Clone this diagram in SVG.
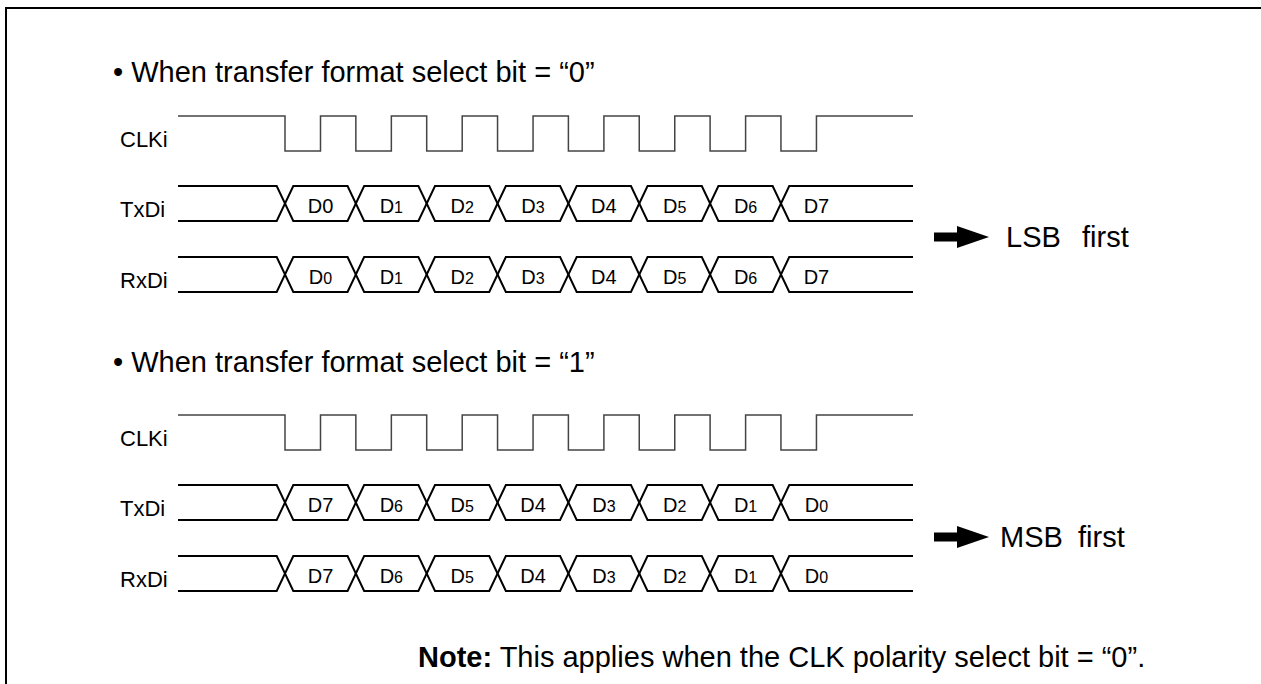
<svg xmlns="http://www.w3.org/2000/svg" xmlns:xlink="http://www.w3.org/1999/xlink" width="1261" height="684" viewBox="0 0 1261 684">
<style>
.frame{fill:none;stroke:#000;stroke-width:2}
.clk{fill:none;stroke:#444;stroke-width:1.5}
.bus{fill:none;stroke:#000;stroke-width:2}
.t{font-family:"Liberation Sans",Arial,sans-serif;fill:#000}
.head{font-size:29px}
.sig{font-size:22px}
.d{font-size:20px;text-anchor:middle}
.s{font-size:16px}
.big{font-size:29px}
.note{font-size:29px}
.arrow{fill:#000}
</style>
<defs>
<path id="clkwave" class="clk" d="M178,0 H285 V35 H320.5 V0 H355.85 V35 H391.35 V0 H426.7 V35 H462.2 V0 H497.55 V35 H533.05 V0 H568.4 V35 H603.9 V0 H639.25 V35 H674.75 V0 H710.1 V35 H745.6 V0 H780.95 V35 H816.45 V0 H913"/>
<g id="buswave" class="bus">
<path d="M178,0 H276.7 L293.3,35 H347.55 L364.15,0 H418.4 L435,35 H489.25 L505.85,0 H560.1 L576.7,35 H630.95 L647.55,0 H701.8 L718.4,35 H772.65 L789.25,0 H913"/>
<path d="M178,35 H276.7 L293.3,0 H347.55 L364.15,35 H418.4 L435,0 H489.25 L505.85,35 H560.1 L576.7,0 H630.95 L647.55,35 H701.8 L718.4,0 H772.65 L789.25,35 H913"/>
</g>
<path id="bigarrow" class="arrow" d="M934,-4.5 H957 V-11 L989,0 L957,11 V4.5 H934 Z"/>
</defs>

<path class="frame" d="M6,690 V8 H1270"/>

<g id="section-lsb">
<text class="t head" x="113" y="82">• When transfer format select bit = “0”</text>
<g id="clk1">
<text class="t sig" x="120" y="147">CLKi</text>
<use xlink:href="#clkwave" transform="translate(0,116)"/>
</g>
<g id="txd1">
<text class="t sig" x="120" y="217">TxDi</text>
<use xlink:href="#buswave" transform="translate(0,186)"/>
<g class="t d">
<text x="320.5" y="213">D0</text>
<text x="391.35" y="213">D<tspan class="s">1</tspan></text>
<text x="462.2" y="213">D<tspan class="s">2</tspan></text>
<text x="533.05" y="213">D<tspan class="s">3</tspan></text>
<text x="603.9" y="213">D4</text>
<text x="674.75" y="213">D<tspan class="s">5</tspan></text>
<text x="745.6" y="213">D<tspan class="s">6</tspan></text>
<text x="816.45" y="213">D7</text>
</g>
</g>
<g id="rxd1">
<text class="t sig" x="120" y="288">RxDi</text>
<use xlink:href="#buswave" transform="translate(0,257)"/>
<g class="t d">
<text x="320.5" y="284">D<tspan class="s">0</tspan></text>
<text x="391.35" y="284">D<tspan class="s">1</tspan></text>
<text x="462.2" y="284">D<tspan class="s">2</tspan></text>
<text x="533.05" y="284">D<tspan class="s">3</tspan></text>
<text x="603.9" y="284">D4</text>
<text x="674.75" y="284">D<tspan class="s">5</tspan></text>
<text x="745.6" y="284">D<tspan class="s">6</tspan></text>
<text x="816.45" y="284">D7</text>
</g>
</g>
<g id="lsb-first">
<use xlink:href="#bigarrow" transform="translate(0,237)"/>
<text class="t big" y="247"><tspan x="1006">LSB</tspan><tspan x="1082">first</tspan></text>
</g>
</g>

<g id="section-msb">
<text class="t head" x="113" y="372">• When transfer format select bit = “1”</text>
<g id="clk2">
<text class="t sig" x="120" y="446">CLKi</text>
<use xlink:href="#clkwave" transform="translate(0,415)"/>
</g>
<g id="txd2">
<text class="t sig" x="120" y="516">TxDi</text>
<use xlink:href="#buswave" transform="translate(0,485)"/>
<g class="t d">
<text x="320.5" y="512">D7</text>
<text x="391.35" y="512">D<tspan class="s">6</tspan></text>
<text x="462.2" y="512">D<tspan class="s">5</tspan></text>
<text x="533.05" y="512">D4</text>
<text x="603.9" y="512">D<tspan class="s">3</tspan></text>
<text x="674.75" y="512">D<tspan class="s">2</tspan></text>
<text x="745.6" y="512">D<tspan class="s">1</tspan></text>
<text x="816.45" y="512">D<tspan class="s">0</tspan></text>
</g>
</g>
<g id="rxd2">
<text class="t sig" x="120" y="587">RxDi</text>
<use xlink:href="#buswave" transform="translate(0,556)"/>
<g class="t d">
<text x="320.5" y="583">D7</text>
<text x="391.35" y="583">D<tspan class="s">6</tspan></text>
<text x="462.2" y="583">D<tspan class="s">5</tspan></text>
<text x="533.05" y="583">D4</text>
<text x="603.9" y="583">D<tspan class="s">3</tspan></text>
<text x="674.75" y="583">D<tspan class="s">2</tspan></text>
<text x="745.6" y="583">D<tspan class="s">1</tspan></text>
<text x="816.45" y="583">D<tspan class="s">0</tspan></text>
</g>
</g>
<g id="msb-first">
<use xlink:href="#bigarrow" transform="translate(0,537)"/>
<text class="t big" y="547"><tspan x="1000">MSB</tspan><tspan x="1078">first</tspan></text>
</g>
</g>

<text class="t note" x="418" y="667"><tspan font-weight="bold">Note:</tspan> This applies when the CLK polarity select bit = “0”.</text>
</svg>
